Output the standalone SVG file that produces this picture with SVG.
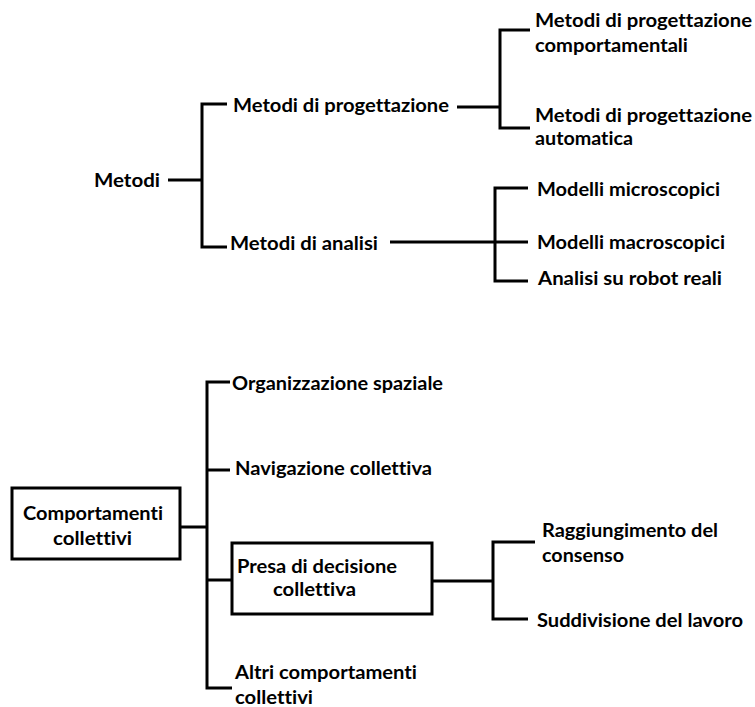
<svg xmlns="http://www.w3.org/2000/svg" width="755" height="707" viewBox="0 0 755 707">
<style>
text{font-family:Lato,"Open Sans","Liberation Sans",sans-serif;font-weight:bold;font-size:19px;fill:#000;font-variant-ligatures:none}
.c{fill:none;stroke:#000;stroke-width:3}
.b{fill:#fff;stroke:#000;stroke-width:3}
</style>
<rect width="755" height="707" fill="#fff"/>
<g id="connectors">
<path class="c" d="M168,180H202M227,104H202V247H227"/>
<path class="c" d="M457,107H500M530,30H500V128H530"/>
<path class="c" d="M390,242H528M528,188H495V281H528"/>
<path class="c" d="M180,527H207M230,382H207V688H232M207,470H230M207,580H232"/>
<path class="c" d="M432,581H493M535,542H493V619H528"/>
</g>
<g id="n-metodi"><text x="94" y="187" textLength="66" lengthAdjust="spacingAndGlyphs">Metodi</text></g>
<g id="n-progettazione"><text x="233" y="112" textLength="216" lengthAdjust="spacingAndGlyphs">Metodi di progettazione</text></g>
<g id="n-analisi"><text x="230" y="250" textLength="148" lengthAdjust="spacingAndGlyphs">Metodi di analisi</text></g>
<g id="n-comportamentali"><text x="535" y="27" textLength="217" lengthAdjust="spacingAndGlyphs">Metodi di progettazione</text><text x="535" y="52" textLength="153" lengthAdjust="spacingAndGlyphs">comportamentali</text></g>
<g id="n-automatica"><text x="535" y="122" textLength="217" lengthAdjust="spacingAndGlyphs">Metodi di progettazione</text><text x="535" y="145" textLength="98" lengthAdjust="spacingAndGlyphs">automatica</text></g>
<g id="n-micro"><text x="537" y="196" textLength="183" lengthAdjust="spacingAndGlyphs">Modelli microscopici</text></g>
<g id="n-macro"><text x="537" y="249" textLength="188" lengthAdjust="spacingAndGlyphs">Modelli macroscopici</text></g>
<g id="n-robot"><text x="538" y="285" textLength="184" lengthAdjust="spacingAndGlyphs">Analisi su robot reali</text></g>
<g id="n-comportamenti"><rect class="b" x="12" y="488" width="168" height="71"/><text x="23" y="520" textLength="140" lengthAdjust="spacingAndGlyphs">Comportamenti</text><text x="53" y="545" textLength="79" lengthAdjust="spacingAndGlyphs">collettivi</text></g>
<g id="n-spaziale"><text x="232" y="390" textLength="211" lengthAdjust="spacingAndGlyphs">Organizzazione spaziale</text></g>
<g id="n-navigazione"><text x="235" y="475" textLength="197" lengthAdjust="spacingAndGlyphs">Navigazione collettiva</text></g>
<g id="n-decisione"><rect class="b" x="232" y="543" width="200" height="71"/><text x="237" y="573" textLength="160" lengthAdjust="spacingAndGlyphs">Presa di decisione</text><text x="273" y="596" textLength="83" lengthAdjust="spacingAndGlyphs">collettiva</text></g>
<g id="n-altri"><text x="235" y="679" textLength="182" lengthAdjust="spacingAndGlyphs">Altri comportamenti</text><text x="235" y="704" textLength="78" lengthAdjust="spacingAndGlyphs">collettivi</text></g>
<g id="n-consenso"><text x="542" y="537" textLength="176" lengthAdjust="spacingAndGlyphs">Raggiungimento del</text><text x="542" y="562" textLength="82" lengthAdjust="spacingAndGlyphs">consenso</text></g>
<g id="n-lavoro"><text x="537" y="627" textLength="206" lengthAdjust="spacingAndGlyphs">Suddivisione del lavoro</text></g>
</svg>
